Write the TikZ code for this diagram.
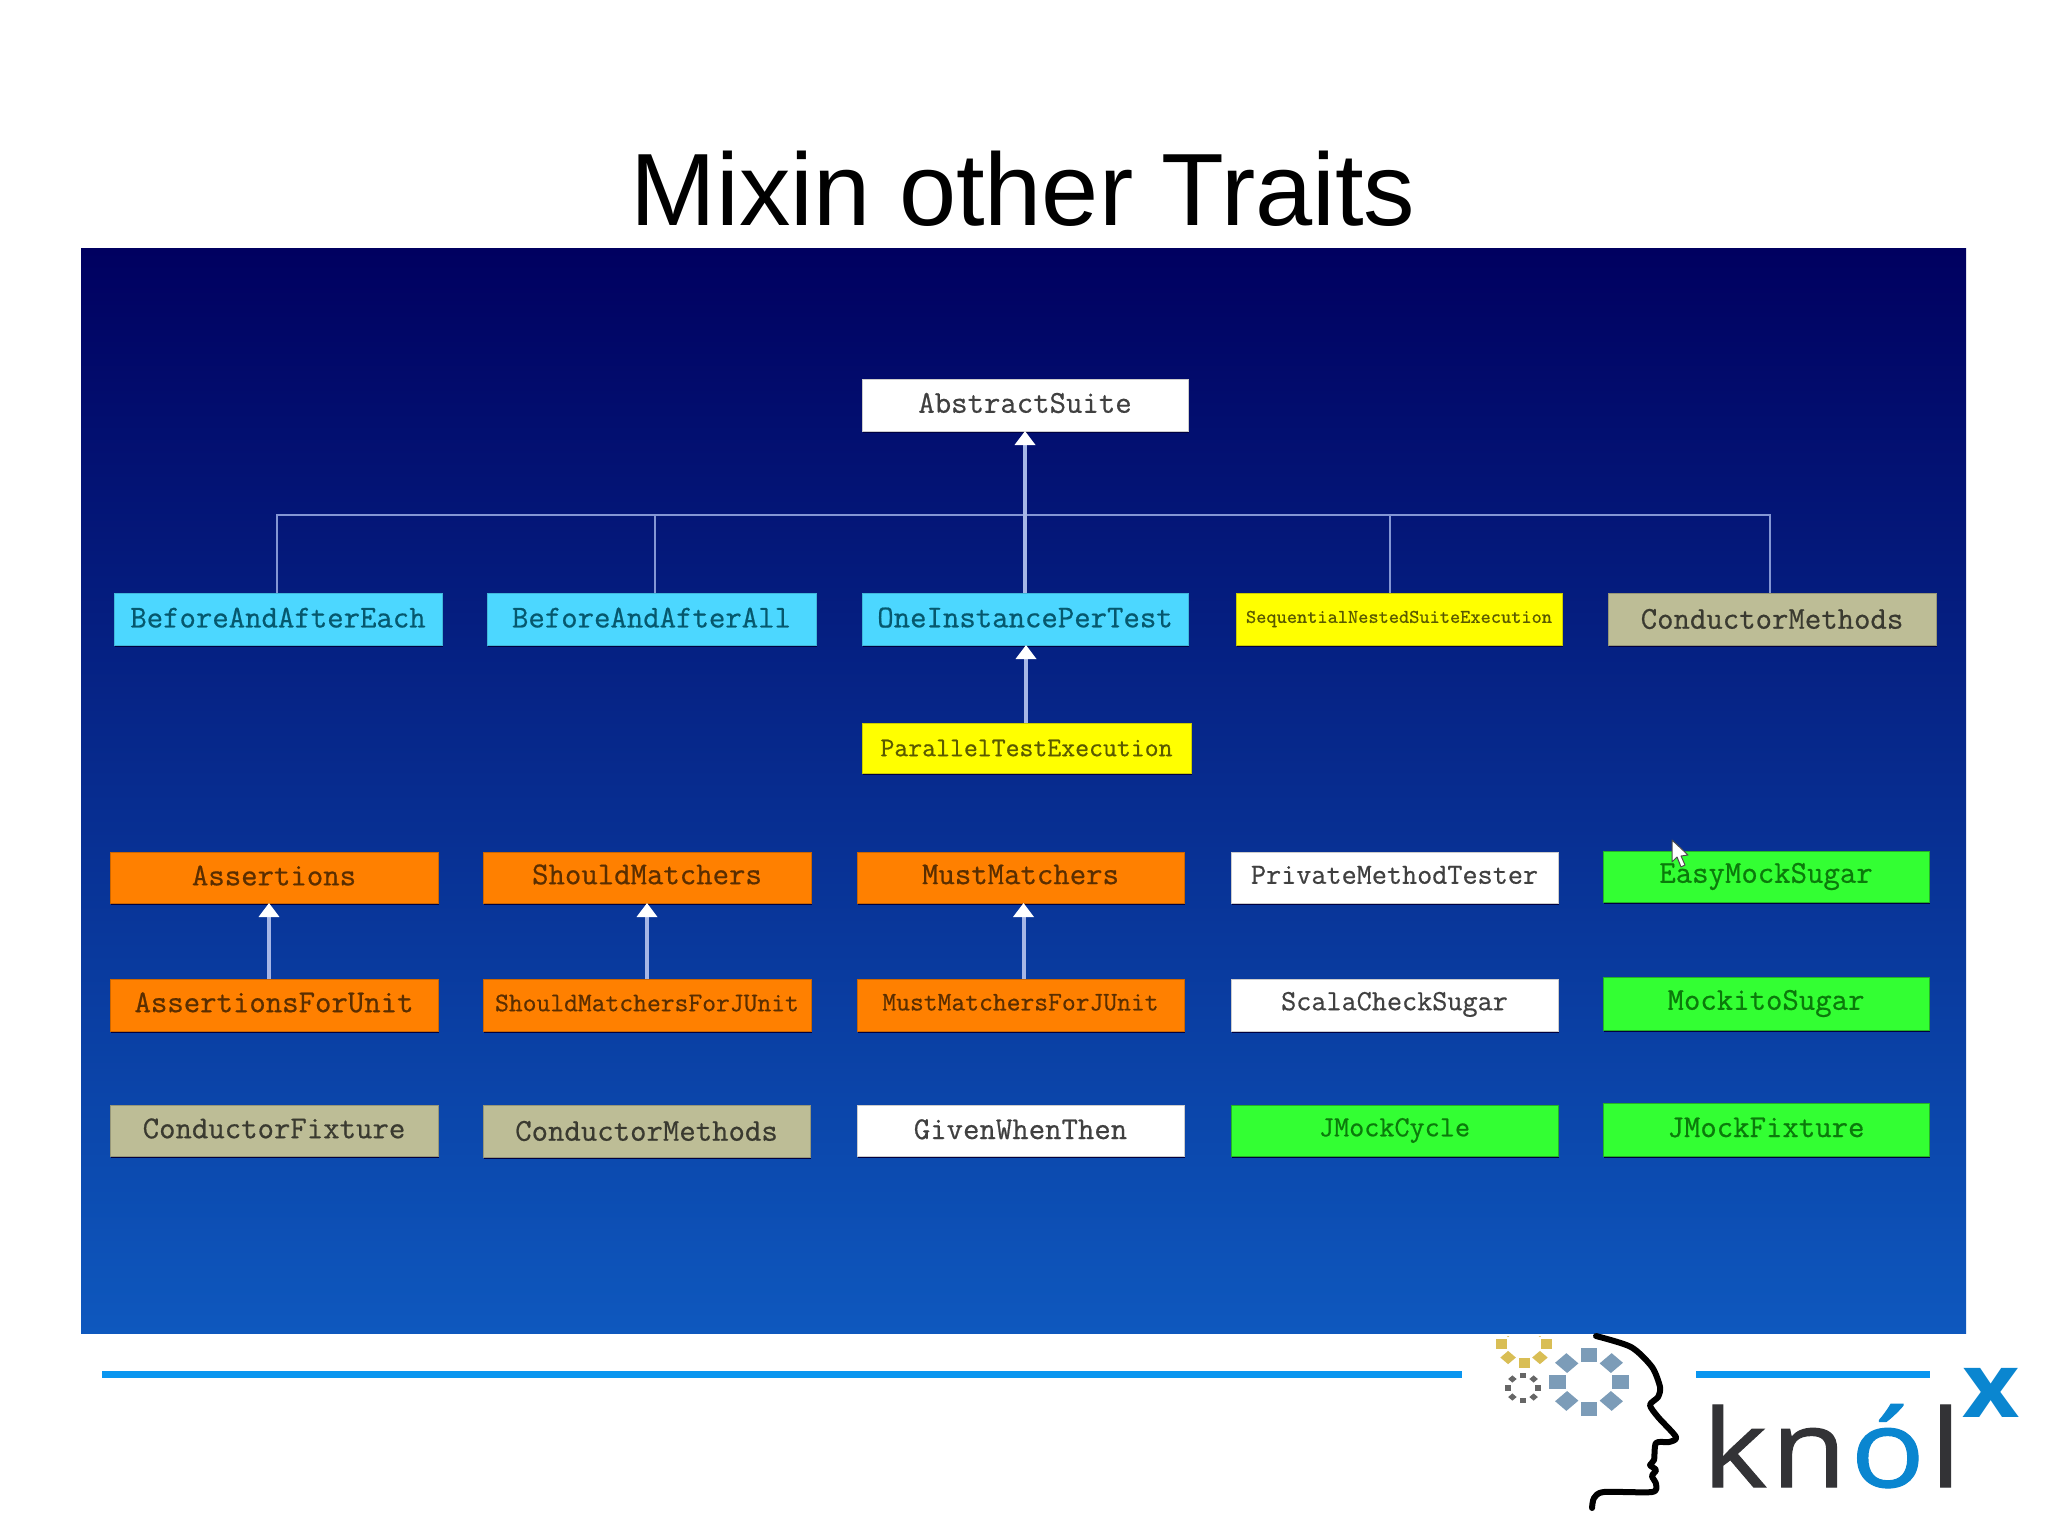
\documentclass[tikz,border=0pt]{standalone}
\usepackage{fontspec}
\setmainfont{Liberation Sans}
\setmonofont[FakeBold=0.6]{Latin Modern Mono}
\newfontfamily\logofont[FakeStretch=1.14,FakeBold=1.0]{Open Sans}
\newfontfamily\logobold[FakeStretch=1.1]{Open Sans}
\usetikzlibrary{arrows.meta,calc,shadows}
\definecolor{panelTop}{HTML}{000060}
\definecolor{panelMid}{HTML}{002A8C}
\definecolor{panelBot}{HTML}{0E58BE}
\definecolor{rule}{HTML}{0A96F0}
\definecolor{connector}{HTML}{A6B6E6}
\definecolor{busline}{HTML}{8496D4}
\definecolor{fcyan}{HTML}{4CD7FF}
\definecolor{fyellow}{HTML}{FFFF00}
\definecolor{ftan}{HTML}{BDBD96}
\definecolor{forange}{HTML}{FF8000}
\definecolor{fgreen}{HTML}{33FF33}
\definecolor{tcyan}{HTML}{06586E}
\definecolor{tyellow}{HTML}{5A5A00}
\definecolor{ttan}{HTML}{3A3A30}
\definecolor{torange}{HTML}{5A2E00}
\definecolor{tgreen}{HTML}{0B7A0B}
\definecolor{twhite}{HTML}{404040}
\definecolor{gearBlue}{HTML}{7C9CB8}
\definecolor{gearGold}{HTML}{D9BE55}
\definecolor{gearGray}{HTML}{666666}
\definecolor{logoDark}{HTML}{333336}
\definecolor{logoBlue}{HTML}{0A86D0}
\tikzset{
  bx/.style={rectangle,inner sep=0pt,outer sep=0pt,line width=0.5pt,align=center,
    general shadow={shadow xshift=0.7pt,shadow yshift=-0.8pt,fill=black!75!blue}},
  bcyan/.style={bx,fill=fcyan,draw=fcyan!85!black,text=tcyan},
  byellow/.style={bx,fill=fyellow,draw=fyellow!80!black,text=tyellow},
  btan/.style={bx,fill=ftan,draw=ftan!80!black,text=ttan},
  borange/.style={bx,fill=forange,draw=forange!80!black,text=torange},
  bgreen/.style={bx,fill=fgreen,draw=fgreen!70!black,text=tgreen},
  bwhite/.style={bx,fill=white,draw=white!80!black,text=twhite},
  inherit/.style={line width=2pt,draw=connector,-{Triangle[length=7pt,width=10pt,color=white,fill=white]}},
  branch/.style={line width=1pt,draw=busline},
  footrule/.style={line width=3.5pt,draw=rule,line cap=butt}
}
\newcommand{\bxnode}[9]{%
  \pgfmathsetmacro\bw{(#5-#3)*0.5}%
  \pgfmathsetmacro\bh{(#6-#4)*0.5}%
  \pgfmathsetmacro\bfs{#7*0.5/0.525*1.02}%
  \node[#2,minimum width=\bw pt,minimum height=\bh pt,font=\ttfamily\fontsize{\bfs}{\bfs}\selectfont] (#1) at ({(#3+#5)/2},{(#4+#6)/2}) {\raisebox{#8pt}[\height][\depth]{#9}};%
}
\begin{document}
\begin{tikzpicture}[x=0.5pt,y=-0.5pt]
\useasboundingbox (0,0) rectangle (2048,1535);
\fill[white] (0,0) rectangle (2048,1535);
\node[font=\fontsize{51.4}{51.4}\selectfont,anchor=base,inner sep=0pt] (title) at (1023,226) {Mixin other Traits};
\shade[top color=panelTop,middle color=panelMid,bottom color=panelBot] (81,249) rectangle (1966,1333);

\bxnode{abstract}{bwhite}{862}{379}{1188}{431}{16.4}{1}{AbstractSuite}
\bxnode{each}{bcyan}{114}{593}{442}{645}{16.4}{0.7}{BeforeAndAfterEach}
\bxnode{all}{bcyan}{487}{593}{816}{645}{16.4}{0.7}{BeforeAndAfterAll}
\bxnode{one}{bcyan}{862}{593}{1188}{645}{16.4}{0.7}{OneInstancePerTest}
\bxnode{seq}{byellow}{1236}{593}{1562}{645}{10}{0}{SequentialNestedSuiteExecution}
\bxnode{condm}{btan}{1608}{593}{1936}{645}{16.4}{0}{ConductorMethods}
\bxnode{par}{byellow}{862}{723}{1191}{773}{13.9}{0}{ParallelTestExecution}

\bxnode{asr}{borange}{110}{852}{438}{903}{16.4}{1}{Assertions}
\bxnode{should}{borange}{483}{852}{811}{903}{16.4}{1.5}{ShouldMatchers}
\bxnode{must}{borange}{857}{852}{1184}{903}{16.4}{1.5}{MustMatchers}
\bxnode{priv}{bwhite}{1231}{852}{1558}{903}{15.1}{1.3}{PrivateMethodTester}
\bxnode{easy}{bgreen}{1603}{851}{1929}{902}{16.4}{0}{EasyMockSugar}

\bxnode{asru}{borange}{110}{979}{438}{1031}{16.4}{1.3}{AssertionsForUnit}
\bxnode{shouldu}{borange}{483}{979}{811}{1031}{13.8}{1}{ShouldMatchersForJUnit}
\bxnode{mustu}{borange}{857}{979}{1184}{1031}{13.8}{1.3}{MustMatchersForJUnit}
\bxnode{scala}{bwhite}{1231}{979}{1558}{1031}{15.1}{0.3}{ScalaCheckSugar}
\bxnode{mockito}{bgreen}{1603}{977}{1929}{1030}{16.4}{0}{MockitoSugar}

\bxnode{condf}{btan}{110}{1105}{438}{1156}{16.4}{1}{ConductorFixture}
\bxnode{condm2}{btan}{483}{1105}{810}{1157}{16.4}{0}{ConductorMethods}
\bxnode{given}{bwhite}{857}{1105}{1184}{1156}{16.4}{0.6}{GivenWhenThen}
\bxnode{cycle}{bgreen}{1231}{1105}{1558}{1156}{15.1}{0}{JMockCycle}
\bxnode{fixture}{bgreen}{1603}{1103}{1929}{1156}{16.4}{1}{JMockFixture}

% bus
\coordinate (busL) at (277,515);
\coordinate (busR) at (1770,515);
\draw[branch] (each.north -| busL) -- (busL) -- (busR) -- (condm.north -| busR);
\draw[branch] ([xshift=1.5pt]all.north) -- ([xshift=1.5pt]all.north |- busL);
\draw[branch] ([xshift=-4.5pt]seq.north) -- ([xshift=-4.5pt]seq.north |- busL);
% inheritance arrows
\draw[inherit] (one.north) -- (abstract.south);
\draw[inherit] ([xshift=0.5pt]one.south |- par.north) -- ([xshift=0.5pt]one.south);
\draw[inherit] ([xshift=-2.5pt]asru.north) -- ([xshift=-2.5pt]asr.south);
\draw[inherit] (shouldu.north) -- (should.south);
\draw[inherit] ([xshift=1.5pt]mustu.north) -- ([xshift=1.5pt]must.south);

% mouse pointer
\fill[white,draw=black!70,line width=0.5pt,line join=round]
  (1672,840) -- (1672,862) -- (1677,857) -- (1681,867) -- (1685,865) -- (1681,856) -- (1688,855) -- cycle;

% footer rules
\draw[footrule] (102,1374) -- (1462,1374);
\draw[footrule] (1696,1374) -- (1930,1374);

% logo: gears
\foreach \a in {0,45,...,315}
  \fill[gearBlue,shift={(1589,1382)},yscale=0.85,rotate=\a] (23,-8) rectangle (40,8);
\foreach \a in {0,45,...,315}
  \fill[gearGray,shift={(1523,1388)},yscale=0.85,rotate=\a] (12,-3) rectangle (18,3);
\begin{scope}
  \clip (1480,1336) rectangle (1570,1380);
  \foreach \a in {0,45,...,315}
    \fill[gearGold,shift={(1524,1344)},yscale=0.85,rotate=\a] (17,-5.5) rectangle (28,5.5);
\end{scope}
% logo: head
\draw[black,line width=3pt,line cap=round,line join=round]
  plot[smooth,tension=0.45] coordinates {(1596,1336) (1631,1347) (1652,1367) (1660,1387) (1658,1397) (1650,1405) (1658,1417) (1676,1437) (1669,1442) (1656,1443) (1654,1460) (1650,1465) (1656,1470) (1652,1476) (1656,1484) (1652,1492) (1604,1492) (1594,1498) (1592,1508)};
% logo: words
\node[anchor=base west,inner sep=0pt,font=\logofont\fontsize{54}{54}\selectfont,text=logoDark] (knol) at (1702,1487) {k\kern2pt n\kern2pt\textcolor{logoBlue}{ó}\kern2.5pt l};
\node[anchor=base west,inner sep=0pt,font=\logobold\bfseries\fontsize{45}{45}\selectfont,text=logoBlue] (logox) at (1962,1417) {x};
\end{tikzpicture}
\end{document}
